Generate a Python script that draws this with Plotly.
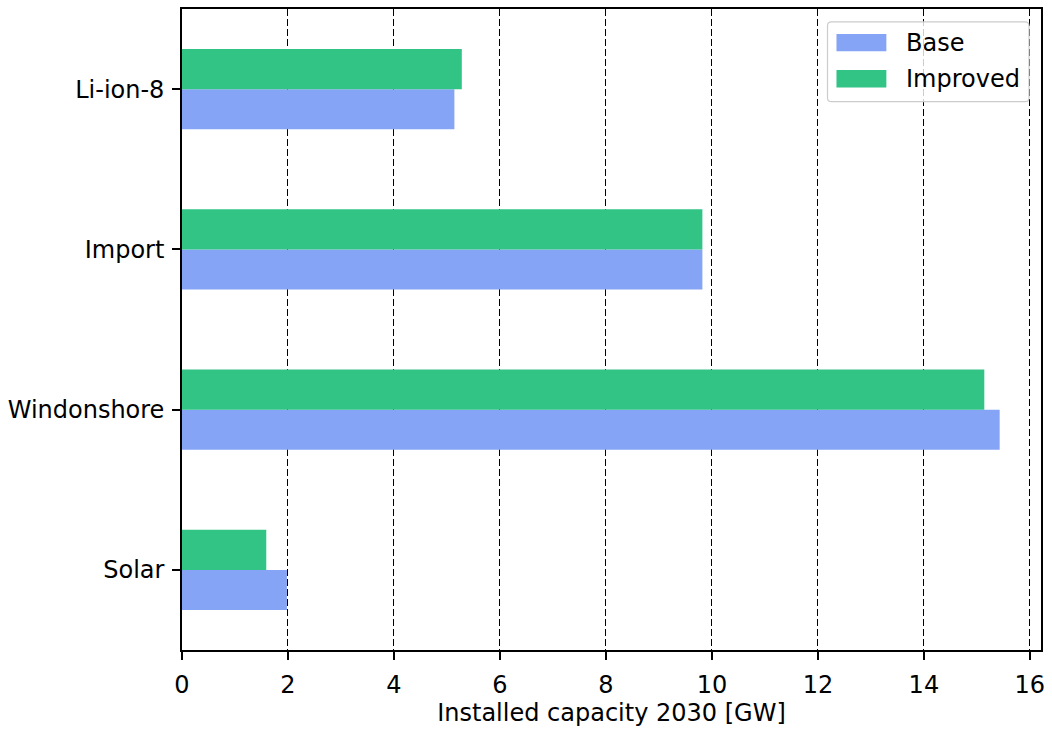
import plotly.graph_objects as go

# Installed capacity by technology, 2030 [GW]
technologies = ["Solar", "Windonshore", "Import", "Li-ion-8"]
base_gw = [1.98, 15.43, 9.82, 5.14]
improved_gw = [1.59, 15.14, 9.82, 5.28]

series_names = ["Base", "Improved"]
series_colors = ["#85a4f6", "#31c485"]

W, H = 1052, 731
L, R, T, B = 182, 1043, 7, 650
FONT = dict(family="DejaVu Sans", size=24, color="black")

fig = go.Figure()
for name, vals, col in zip(series_names, [base_gw, improved_gw], series_colors):
    fig.add_trace(go.Bar(
        y=technologies, x=vals, name=name, orientation="h",
        marker=dict(color=col, line=dict(width=0)), showlegend=False,
    ))

fig.update_layout(
    width=W, height=H,
    margin=dict(l=L, r=W - R, t=T, b=H - B, pad=0),
    paper_bgcolor="white", plot_bgcolor="white",
    barmode="group", bargap=0.5, bargroupgap=0,
    font=FONT,
)
fig.update_xaxes(
    range=[0, 16.21], tick0=0, dtick=2,
    ticks="outside", ticklen=8, tickwidth=1.6, tickcolor="black",
    showline=True, linecolor="black", linewidth=1.6, mirror=True,
    showgrid=True, gridcolor="black", gridwidth=1.3, griddash="7px,3px",
    zeroline=False, ticklabelstandoff=4,
    title=dict(text="Installed capacity 2030 [GW]", font=FONT, standoff=6),
    tickfont=FONT,
)
fig.update_yaxes(
    categoryorder="array", categoryarray=technologies, range=[-0.5, 3.5],
    ticks="outside", ticklen=8, tickwidth=1.6, tickcolor="black",
    showline=True, linecolor="black", linewidth=1.6, mirror=True,
    showgrid=False, zeroline=False, tickfont=FONT, ticklabelstandoff=3,
)

# Legend drawn as a framed box in paper coordinates
def px_x(p):
    return (p - L) / (R - L)

def px_y(p):
    return (B - p) / (B - T)

x0, x1, y0, y1, rad = 829, 1031, 20, 100, 4
path = (
    f"M {px_x(x0 + rad)} {px_y(y0)} L {px_x(x1 - rad)} {px_y(y0)} "
    f"Q {px_x(x1)} {px_y(y0)} {px_x(x1)} {px_y(y0 + rad)} "
    f"L {px_x(x1)} {px_y(y1 - rad)} Q {px_x(x1)} {px_y(y1)} {px_x(x1 - rad)} {px_y(y1)} "
    f"L {px_x(x0 + rad)} {px_y(y1)} Q {px_x(x0)} {px_y(y1)} {px_x(x0)} {px_y(y1 - rad)} "
    f"L {px_x(x0)} {px_y(y0 + rad)} Q {px_x(x0)} {px_y(y0)} {px_x(x0 + rad)} {px_y(y0)} Z"
)
fig.add_shape(type="path", path=path, xref="paper", yref="paper",
              fillcolor="rgba(255,255,255,0.8)", line=dict(color="#cccccc", width=1.2),
              layer="above")
for i, (name, col) in enumerate(zip(series_names, series_colors)):
    top = 32 + i * 36.3
    fig.add_shape(type="rect", xref="paper", yref="paper",
                  x0=px_x(838), x1=px_x(888), y0=px_y(top), y1=px_y(top + 17.5),
                  fillcolor=col, line=dict(width=0), layer="above")
    fig.add_annotation(x=px_x(906), y=px_y(top + 9), xref="paper", yref="paper",
                       text=name, showarrow=False, xanchor="left", yanchor="middle",
                       font=FONT)

fig.write_html("out.html")
